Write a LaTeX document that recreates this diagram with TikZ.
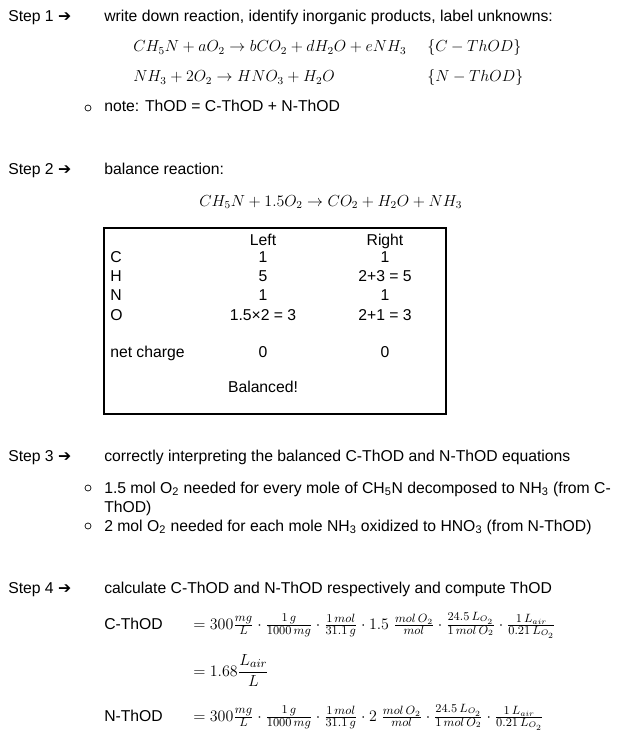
\documentclass[tikz,border=0pt]{standalone}
\usepackage{fontspec}
\setmainfont{Liberation Sans}
\newfontfamily\arr{DejaVu Sans}
\begin{document}
\begin{tikzpicture}[x=0.75pt,y=-0.75pt,
  tx/.style={anchor=base west,inner sep=0pt,font=\fontsize{11.8}{13}\selectfont},
  tc/.style={anchor=base,inner sep=0pt,font=\fontsize{11.8}{13}\selectfont},
  mx/.style={anchor=base west,inner sep=0pt,font=\fontsize{11.5}{13}\selectfont},
  fx/.style={anchor=base west,inner sep=0pt,font=\fontsize{12.5}{14}\selectfont},
  bul/.style={draw,circle,minimum size=4.5pt,inner sep=0pt,line width=0.5pt}]
\useasboundingbox (0,0) rectangle (622,738);
% Step 1
\node[tx] (s1) at (8,22) {Step 1 {\arr\bfseries ➔}};
\node[tx] (s1t) at (104,22) {write down reaction, identify inorganic products, label unknowns:};
\node[mx] (e1) at (133,52) {$CH_5N + a O_2 \rightarrow b CO_2 + d H_2O + e NH_3$};
\node[mx] (e1l) at (427,52) {$\{C - ThOD\}$};
\node[mx] (e2) at (133,82) {$NH_3 + 2O_2 \rightarrow HNO_3 + H_2O$};
\node[mx] (e2l) at (427,82) {$\{N - ThOD\}$};
\node[bul] (b1) at (88,108) {};
\node[tx] (n1) at (104,112) {note: ThOD = C-ThOD + N-ThOD};
% Step 2
\node[tx] (s2) at (8,175) {Step 2 {\arr\bfseries ➔}};
\node[tx] (s2t) at (104,175) {balance reaction:};
\node[mx] (e3) at (199,206) {$CH_5N + 1.5 O_2 \rightarrow CO_2 + H_2O + NH_3$};
\draw[line width=0.8pt] (104,228) rectangle (446,414);
\node[tc] (hl) at (263,245) {Left};
\node[tc] (hr) at (385,245) {Right};
\node[tx] (rc) at (110,262) {C};
\node[tc] (lc) at (263,262) {1};
\node[tc] (rrc) at (385,262) {1};
\node[tx] (rh) at (110,281) {H};
\node[tc] (lh) at (263,281) {5};
\node[tc] (rrh) at (385,281) {2+3 = 5};
\node[tx] (rn) at (110,300) {N};
\node[tc] (ln) at (263,300) {1};
\node[tc] (rrn) at (385,300) {1};
\node[tx] (ro) at (110,320) {O};
\node[tc] (lo) at (263,320) {1.5×2 = 3};
\node[tc] (rro) at (385,320) {2+1 = 3};
\node[tx] (nc) at (110,357) {net charge};
\node[tc] (lnc) at (263,357) {0};
\node[tc] (rnc) at (385,357) {0};
\node[tc] (bal) at (263,392) {Balanced!};
% Step 3
\node[tx] (s3) at (8,461) {Step 3 {\arr\bfseries ➔}};
\node[tx] (s3t) at (104,461) {correctly interpreting the balanced C-ThOD and N-ThOD equations};
\node[bul] (b2) at (88,488) {};
\node[tx] (b2t) at (104,493) {1.5 mol O\textsubscript{2} needed for every mole of CH\textsubscript{5}N decomposed to NH\textsubscript{3} (from C-};
\node[tx] (b2u) at (104,512) {ThOD)};
\node[bul] (b3) at (88,526) {};
\node[tx] (b3t) at (104,531) {2 mol O\textsubscript{2} needed for each mole NH\textsubscript{3} oxidized to HNO\textsubscript{3} (from N-ThOD)};
% Step 4
\node[tx] (s4) at (8,593) {Step 4 {\arr\bfseries ➔}};
\node[tx] (s4t) at (104,593) {calculate C-ThOD and N-ThOD respectively and compute ThOD};
\node[tx] (c) at (104,629) {C-ThOD};
\node[fx] (ce) at (193,629) {$= 300\frac{mg}{L}\cdot\frac{1\,g}{1000\,mg}\cdot\frac{1\,mol}{31.1\,g}\cdot 1.5\;\frac{mol\,O_2}{mol}\cdot\frac{24.5\,L_{O_2}}{1\,mol\,O_2}\cdot\frac{1\,L_{air}}{0.21\,L_{O_2}}$};
\node[fx] (ce2) at (193,676) {$= 1.68{\displaystyle\frac{L_{air}}{L}}$};
\node[tx] (n) at (104,721) {N-ThOD};
\node[fx] (ne) at (193,721) {$= 300\frac{mg}{L}\cdot\frac{1\,g}{1000\,mg}\cdot\frac{1\,mol}{31.1\,g}\cdot 2\;\frac{mol\,O_2}{mol}\cdot\frac{24.5\,L_{O_2}}{1\,mol\,O_2}\cdot\frac{1\,L_{air}}{0.21\,L_{O_2}}$};
\end{tikzpicture}
\end{document}
